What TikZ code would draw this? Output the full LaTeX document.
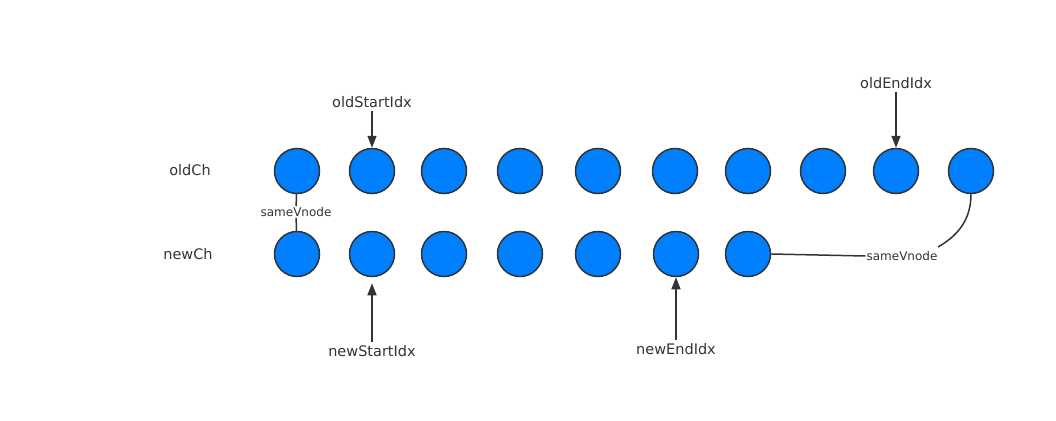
\documentclass[tikz,border=0pt]{standalone}
\usepackage{fontspec}
\setmainfont{DejaVu Sans}
\usetikzlibrary{arrows.meta}

\definecolor{nodeblue}{RGB}{0,128,255}
\definecolor{inkgray}{RGB}{51,51,51}

\begin{document}
\begin{tikzpicture}[x=1pt,y=-1pt]
    \tikzset{vertex/.style={shape = circle,
                fill = nodeblue,
                draw = inkgray,
                line width = 1.5pt,
                minimum size = 45pt,
                inner sep = 0pt},
        caption/.style={font = \fontsize{14.5}{16}\selectfont,
                text = inkgray},
        tag/.style={font = \fontsize{12}{13}\selectfont,
                text = inkgray, inner sep = 1pt, fill = white},
        pointer/.style={-{Triangle[length=12pt,width=9pt]},
                line width = 1.5pt, draw = inkgray},
        link/.style={line width = 1.5pt, draw = inkgray}}
    \useasboundingbox (0,0) rectangle (1056,420);
    % row labels
    \node[caption] (oldCh) at (190,170) {oldCh};
    \node[caption] (newCh) at (188,254) {newCh};
    % old children
    \node[vertex] (o1) at (297,171) {};
    \node[vertex] (o2) at (372,171) {};
    \node[vertex] (o3) at (444,171) {};
    \node[vertex] (o4) at (520,171) {};
    \node[vertex] (o5) at (598,171) {};
    \node[vertex] (o6) at (675,171) {};
    \node[vertex] (o7) at (748,171) {};
    \node[vertex] (o8) at (823,171) {};
    \node[vertex] (o9) at (896,171) {};
    \node[vertex] (o10) at (971,171) {};
    % new children
    \node[vertex] (n1) at (297,254) {};
    \node[vertex] (n2) at (372,254) {};
    \node[vertex] (n3) at (444,254) {};
    \node[vertex] (n4) at (520,254) {};
    \node[vertex] (n5) at (598,254) {};
    \node[vertex] (n6) at (676,254) {};
    \node[vertex] (n7) at (748,254) {};
    % index pointers
    \node[caption] (oldStart) at (372,102) {oldStartIdx};
    \node[caption] (oldEnd) at (896,83) {oldEndIdx};
    \node[caption] (newStart) at (372,351) {newStartIdx};
    \node[caption] (newEnd) at (676,349) {newEndIdx};
    \draw[pointer] (oldStart) -- (o2);
    \draw[pointer] (oldEnd) -- (o9);
    \draw[pointer] (newStart.north) -- ([yshift=-6pt]n2.south);
    \draw[pointer] (newEnd) -- (n6);
    % sameVnode links
    \node[tag] (same1) at (296,212) {sameVnode};
    \draw[link] (o1) -- (same1) -- (n1);
    \node[tag] (same2) at (902,256) {sameVnode};
    \coordinate (bend) at (938,247);
    \draw[link] (o10.south) to[out=-90,in=30] (bend);
    \draw[link] (n7.east) -- (same2.west);
\end{tikzpicture}
\end{document}
